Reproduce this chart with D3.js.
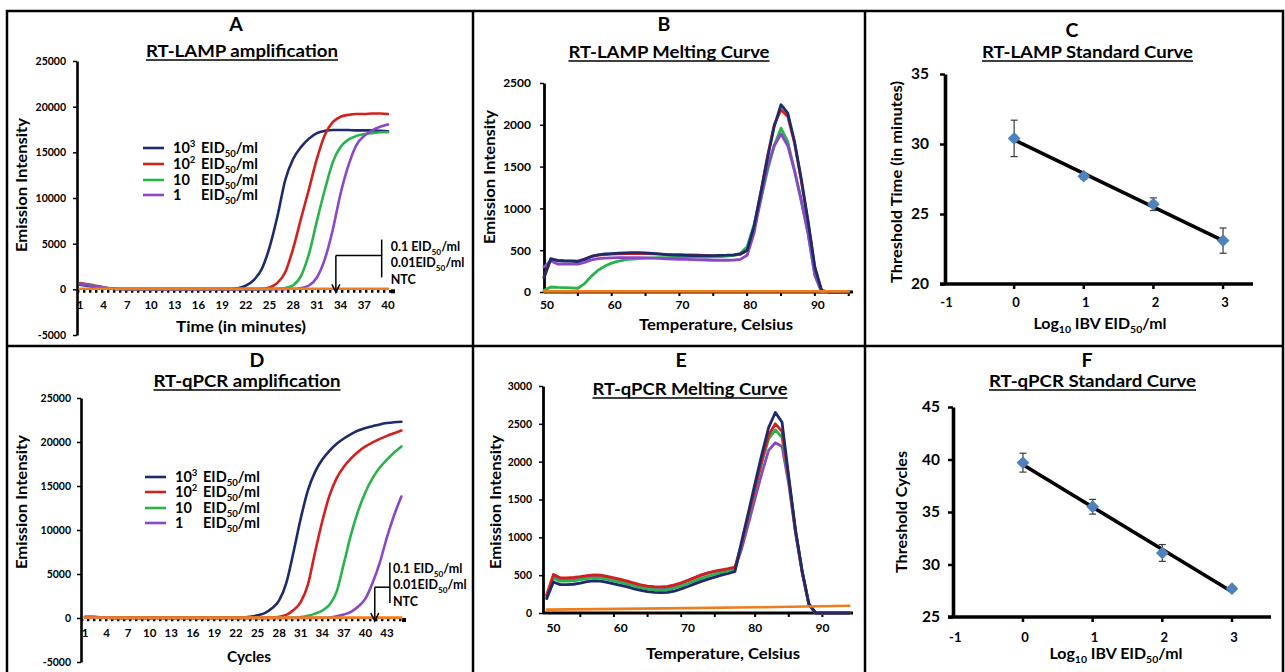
<!DOCTYPE html>
<html><head><meta charset="utf-8">
<script src="https://cdn.jsdelivr.net/npm/d3@7"></script>
<style>
body{margin:0;background:#fff}
svg{display:block}
text{font-family:Lato,"Open Sans","DejaVu Sans",sans-serif;font-weight:bold;fill:#000}
</style>
</head><body>
<svg id="c" width="1285" height="672"></svg>
<script>
// ================= DATA =================
// Panel A: RT-LAMP amplification (minutes)
const minutesA=[1,2,3,4,5,6,7,8,9,10,11,12,13,14,15,16,17,18,19,20,21,22,23,24,25,26,27,28,29,30,31,32,33,34,35,36,37,38,39,40];
const lampAmp1000=[500,380,250,140,70,30,20,20,20,20,20,20,20,20,20,20,20,20,20,30,120,400,1000,2200,4600,8000,12000,14300,15600,16500,17100,17350,17450,17450,17450,17400,17400,17400,17350,17300];
const lampAmp100=[700,560,380,220,100,40,20,20,20,20,20,20,20,20,20,20,20,20,20,20,20,20,20,60,200,700,1900,4500,7800,11000,14300,16900,18300,18900,19100,19200,19200,19250,19250,19200];
const lampAmp10=[600,470,320,180,80,30,20,20,20,20,20,20,20,20,20,20,20,20,20,20,20,20,20,20,20,60,150,450,1500,3900,7500,10900,13900,15600,16400,16800,17000,17100,17200,17200];
const lampAmp1=[600,450,300,170,70,30,20,20,20,20,20,20,20,20,20,20,20,20,20,20,20,20,20,20,20,20,20,60,150,420,1300,3300,6500,10500,13600,15800,16800,17400,17800,18050];
const ntcMinutesA=[1,40];
const lampAmpNTC=[60,60];

// Panel D: RT-qPCR amplification (cycles)
const cyclesD=[1,2,3,4,5,6,7,8,9,10,11,12,13,14,15,16,17,18,19,20,21,22,23,24,25,26,27,28,29,30,31,32,33,34,35,36,37,38,39,40,41,42,43,44,45];
const qpcrAmp1000=[100,100,80,40,10,10,10,10,10,10,10,10,10,10,10,10,10,10,10,10,10,10,40,150,300,550,1100,2000,4000,7500,11300,14500,16600,18000,19000,19800,20400,20900,21300,21600,21800,22000,22150,22250,22300];
const qpcrAmp100=[100,100,80,40,10,10,10,10,10,10,10,10,10,10,10,10,10,10,10,10,10,10,10,10,10,10,50,150,350,900,1800,3800,7500,11000,13900,15900,17200,18150,18900,19500,19950,20350,20700,21000,21300];
const qpcrAmp10=[100,100,80,40,10,10,10,10,10,10,10,10,10,10,10,10,10,10,10,10,10,10,10,10,10,10,10,10,10,10,100,250,500,850,1500,3000,6200,9500,12200,14300,15900,17100,18000,18800,19500];
const qpcrAmp1=[100,100,80,40,10,10,10,10,10,10,10,10,10,10,10,10,10,10,10,10,10,10,10,10,10,10,10,10,10,10,10,10,10,10,50,200,400,700,1300,2200,4000,6300,9200,11700,13800];
const ntcCyclesD=[1,45];
const qpcrAmpNTC=[40,40];

// Panel B: RT-LAMP melting curve
const tempB=[50,51,52,53,54,55,56,57,58,59,60,61,62,63,64,65,66,67,68,69,70,71,72,73,74,75,76,77,78,79,80,81,82,83,84,85,86,87,88,89,90,91,92,93,94,95];
const lampMelt1000=[170,400,375,370,370,365,390,425,445,455,460,465,468,470,470,468,462,455,448,443,440,438,436,435,435,436,438,440,445,455,500,780,1180,1600,1980,2240,2140,1800,1350,850,300,20,0,0,0,0];
const lampMelt100=[180,390,380,375,372,370,395,425,440,448,452,455,458,460,460,458,455,452,450,448,446,445,443,440,436,432,432,435,440,450,500,780,1180,1620,2000,2180,2100,1780,1330,830,280,10,0,0,0,0];
const lampMelt10=[20,60,55,52,50,45,100,190,260,310,345,370,385,395,400,405,408,410,412,413,414,415,416,417,418,420,422,428,438,460,540,800,1100,1450,1750,1960,1800,1450,1080,700,200,0,0,0,0,0];
const lampMelt1=[300,370,335,333,333,333,355,385,400,405,408,410,410,410,410,408,405,402,398,395,392,390,388,385,383,380,380,380,382,390,440,700,1100,1500,1750,1890,1750,1450,1100,700,200,0,0,0,0,0];
const ntcTempB=[50,95];
const lampMeltNTC=[8,8];

// Panel E: RT-qPCR melting curve
const tempE=[49,50,51,52,53,54,55,56,57,58,59,60,61,62,63,64,65,66,67,68,69,70,71,72,73,74,75,76,77,78,79,80,81,82,83,84,85,86,87,88,89,90,91,92,93,94];
const qpcrMelt1000=[190,410,375,375,380,395,415,425,420,405,385,365,345,320,300,282,272,268,272,290,318,350,385,418,448,475,500,522,550,950,1330,1720,2100,2450,2650,2520,1800,1100,550,120,0,0,0,0,0,0];
const qpcrMelt100=[240,510,465,465,470,480,495,505,500,485,465,445,420,395,372,355,348,345,352,372,400,432,465,500,530,552,570,585,605,920,1290,1660,2020,2350,2500,2400,1760,1080,540,110,0,0,0,0,0,0];
const qpcrMelt10=[215,460,420,420,425,440,455,465,460,445,425,405,382,358,336,318,308,305,310,330,358,390,425,458,488,512,535,555,578,910,1270,1640,1990,2300,2420,2320,1740,1080,540,110,0,0,0,0,0,0];
const qpcrMelt1=[230,480,440,440,445,460,475,485,480,465,445,425,400,375,352,335,325,322,330,355,390,430,470,505,530,548,562,575,590,850,1180,1520,1850,2150,2250,2200,1700,1060,530,110,0,0,0,0,0,0];
const ntcTempE=[49,60,70,80,94];
const qpcrMeltNTC=[45,55,65,75,95];

// Panels C & F: standard curves
const log10Dose=[0,1,2,3];
const lampThreshold=[30.4,27.7,25.7,23.1];
const lampThresholdSd=[1.3,0.2,0.45,0.9];
const lampFitDose=[0,3];
const lampFit=[30.3,23.1];
const qpcrThreshold=[39.7,35.5,31.1,27.7];
const qpcrThresholdSd=[0.9,0.7,0.8,0.2];
const qpcrFitDose=[0,3];
const qpcrFit=[39.5,27.4];

// Tick labels
const ampTicks=[-5000,0,5000,10000,15000,20000,25000];
const minuteLabels=[1,4,7,10,13,16,19,22,25,28,31,34,37,40];
const cycleLabels=[1,4,7,10,13,16,19,22,25,28,31,34,37,40,43];
const meltTicksB=[0,500,1000,1500,2000,2500];
const meltTicksE=[0,500,1000,1500,2000,2500,3000];
const tempLabels=[50,60,70,80,90];
const tempTicksB=[55,60,65,70,75,80,85,90,95];
const tempTicksE=[54,59,64,69,74,80,85,90];
const logLabels=[-1,0,1,2,3];
const lampTimeTicks=[20,25,30,35];
const qpcrCycleTicks=[25,30,35,40,45];
const seriesNames=[["10","^3"],["10","^2"],["10"],["1"]];
const ntcLabels=[["0.1 EID","_50","/ml"],["0.01EID","_50","/ml"],["NTC"]];

// ================= DRAWING =================
const COL={blue:"#1d2b6c",red:"#d2201f",green:"#28b34b",purple:"#8b47c8",orange:"#f07d1c",diamond:"#4f81bd"};
const seriesColors=[COL.blue,COL.red,COL.green,COL.purple];
const svg=d3.select("#c");

function rich(sel,parts,size){
  let shift=0;
  parts.forEach(p=>{
    const kind=p[0]==="_"?"sub":(p[0]==="^"?"sup":"");
    const s=kind?p.slice(1):p;
    const target=kind==="sub"?size*0.28:(kind==="sup"?-size*0.42:0);
    const t=sel.append("tspan").text(s);
    if(target-shift!==0) t.attr("dy",target-shift);
    if(kind) t.attr("font-size",size*0.66);
    shift=target;
  });
}
function txt(g,x,y,size,parts,o={}){
  const t=g.append("text").attr("x",x).attr("y",y).attr("font-size",size)
    .attr("text-anchor",o.anchor||"middle");
  if(o.rotate) t.attr("transform",`rotate(-90,${x},${y})`);
  if(o.len) t.attr("textLength",o.len).attr("lengthAdjust","spacingAndGlyphs");
  if(o.weight) t.attr("font-weight",o.weight);
  rich(t,Array.isArray(parts)?parts:[parts],size);
  return t;
}
function title(g,cx,base,str,len){
  txt(g,cx,base,17,str,{len:len});
  g.append("line").attr("x1",cx-len/2).attr("x2",cx+len/2).attr("y1",base+3).attr("y2",base+3)
    .attr("stroke","#000").attr("stroke-width",1.4);
}
function yAxis(g,scale,ticks,x0,o){
  const a=g.append("g").attr("transform",`translate(${x0},0)`)
    .call(d3.axisLeft(scale).tickValues(ticks).tickSize(o.tick).tickSizeOuter(0).tickPadding(o.pad).tickFormat(d=>String(d)));
  a.select(".domain").attr("stroke","#000").attr("stroke-width",o.sw);
  a.selectAll(".tick line").attr("stroke","#000").attr("stroke-width",o.tw||1.5);
  a.selectAll(".tick text").attr("font-size",o.fs).attr("font-weight",o.fw||"bold").attr("fill","#000");
  return a;
}
function series(g,xs,ys,x,y,color,w,curve){
  const line=d3.line().x(d=>x(d[0])).y(d=>y(d[1])).curve(curve||d3.curveLinear);
  g.append("path").datum(d3.zip(xs,ys)).attr("d",line).attr("fill","none")
    .attr("stroke",color).attr("stroke-width",w).attr("stroke-linejoin","round").attr("stroke-linecap","round");
}

// ---- frame ----
const fr=svg.append("g").attr("stroke","#000").attr("stroke-width",2.5).attr("fill","none");
fr.append("rect").attr("x",7).attr("y",11).attr("width",1276).attr("height",672);
fr.append("line").attr("x1",473).attr("x2",473).attr("y1",11).attr("y2",672);
fr.append("line").attr("x1",865).attr("x2",865).attr("y1",11).attr("y2",672);
fr.append("line").attr("x1",7).attr("x2",1283).attr("y1",346).attr("y2",346);

// ---- amplification panels (A, D) ----
function ampPanel(c){
  const g=svg.append("g");
  const x=d3.scaleLinear().domain(c.xDom).range(c.xRng);
  const y=d3.scaleLinear().domain([-5000,25000]).range(c.yRng);
  txt(g,c.letterX,c.letterY,19.5,c.letter);
  title(g,c.titleX,c.titleY,c.title,c.titleLen);
  yAxis(g,y,ampTicks,c.axisX,{tick:4,pad:c.pad,sw:2.6,fs:10.5});
  // dotted baseline axis
  g.append("line").attr("x1",c.axisX).attr("x2",c.xEnd).attr("y1",y(0)+2).attr("y2",y(0)+2)
    .attr("stroke","#000").attr("stroke-width",2.6).attr("stroke-dasharray","2.4,3.6");
  g.append("rect").attr("x",c.xEnd-2).attr("y",y(0)).attr("width",4).attr("height",4).attr("fill","#000");
  g.selectAll(null).data(c.labels).join("text").attr("x",d=>x(d)).attr("y",c.labY)
    .attr("font-size",11.5).attr("text-anchor","middle").text(d=>d);
  txt(g,c.xTitleX,c.xTitleY,15,c.xTitle,{len:c.xTitleLen});
  txt(g,c.yTitleX,c.yTitleY,15,"Emission Intensity",{rotate:true,len:134});
  // curves
  c.ys.forEach((ys,i)=>series(g,c.xs,ys,x,y,seriesColors[i],2.6,d3.curveMonotoneX));
  series(g,c.ntcX,c.ntcY,x,y,COL.orange,2.6);
  // legend
  c.ys.forEach((ys,i)=>{
    const yy=c.legY[i];
    g.append("line").attr("x1",c.legX).attr("x2",c.legX+21).attr("y1",yy).attr("y2",yy)
      .attr("stroke",seriesColors[i]).attr("stroke-width",2.6);
    txt(g,c.legX+30,yy+5,14.5,seriesNames[i],{anchor:"start"});
    txt(g,c.legX+58,yy+5,14.5,["EID","_50","/ml"],{anchor:"start"});
  });
  // NTC annotation
  const ax=x(c.arrowAt), bx=x(c.bracketAt);
  const an=g.append("g").attr("stroke","#000").attr("stroke-width",1.5).attr("fill","none");
  an.append("line").attr("x1",bx).attr("x2",bx).attr("y1",y(c.bracketTop)).attr("y2",y(c.bracketBot));
  an.append("line").attr("x1",ax).attr("x2",bx).attr("y1",y(c.bracketMid)).attr("y2",y(c.bracketMid));
  an.append("line").attr("x1",ax).attr("x2",ax).attr("y1",y(c.bracketMid)).attr("y2",y(0)+3);
  an.append("path").attr("d",`M${ax-4},${y(0)-5}L${ax},${y(0)+3}L${ax+4},${y(0)-5}`);
  ntcLabels.forEach((p,i)=>txt(g,bx+c.ntcDx,c.ntcY0+16.3*i,12.5,p,{anchor:"start"}));
}
ampPanel({letter:"A",letterX:236,letterY:31,title:"RT-LAMP amplification",titleX:242,titleY:57,titleLen:192,
  xDom:[1,40],xRng:[80,388],yRng:[335,61],axisX:77,pad:7,xEnd:393,labels:minuteLabels,labY:309,
  xTitle:"Time (in minutes)",xTitleX:241,xTitleY:332,xTitleLen:130,yTitleX:27,yTitleY:185,
  xs:minutesA,ys:[lampAmp1000,lampAmp100,lampAmp10,lampAmp1],ntcX:ntcMinutesA,ntcY:lampAmpNTC,
  legX:143,legY:[148,164,180,195],arrowAt:33.4,bracketAt:39.2,bracketTop:5450,bracketBot:1300,bracketMid:3700,
  ntcDx:9,ntcY0:251});
ampPanel({letter:"D",letterX:257,letterY:367,title:"RT-qPCR amplification",titleX:247,titleY:387,titleLen:187,
  xDom:[1,43],xRng:[85,387],yRng:[662,398],axisX:81,pad:6,xEnd:404,labels:cycleLabels,labY:637,
  xTitle:"Cycles",xTitleX:249,xTitleY:662,xTitleLen:44,yTitleX:27,yTitleY:502,
  xs:cyclesD,ys:[qpcrAmp1000,qpcrAmp100,qpcrAmp10,qpcrAmp1],ntcX:ntcCyclesD,ntcY:qpcrAmpNTC,
  legX:145,legY:[477,492,508,523],arrowAt:41.3,bracketAt:43.4,bracketTop:6300,bracketBot:1700,bracketMid:3500,
  ntcDx:3,ntcY0:573});

// ---- melting panels (B, E) ----
function meltPanel(c){
  const g=svg.append("g");
  const x=d3.scaleLinear().domain(c.xDom).range(c.xRng);
  const y=d3.scaleLinear().domain(c.yDom).range(c.yRng);
  txt(g,c.letterX,c.letterY,19.5,c.letter);
  title(g,c.titleX,c.titleY,c.title,c.titleLen);
  yAxis(g,y,c.yTicks,c.axisX,{tick:4,pad:c.pad,sw:2.8,fs:c.fs});
  const base=y(0);
  g.append("line").attr("x1",c.axisX).attr("x2",853).attr("y1",base).attr("y2",base)
    .attr("stroke","#000").attr("stroke-width",2.8);
  g.selectAll(null).data(c.ticks).join("line").attr("x1",d=>x(d)).attr("x2",d=>x(d))
    .attr("y1",base).attr("y2",base+4).attr("stroke","#000").attr("stroke-width",2);
  g.selectAll(null).data(tempLabels).join("text").attr("x",d=>x(d)+c.labDx).attr("y",c.labY)
    .attr("font-size",12).attr("text-anchor","middle").text(d=>d);
  txt(g,c.xTitleX,c.xTitleY,15.5,"Temperature, Celsius",{len:154});
  txt(g,c.yTitleX,c.yTitleY,15,"Emission Intensity",{rotate:true,len:134});
  c.order.forEach(i=>series(g,c.xs,c.ys[i],x,y,seriesColors[i],2.8));
  series(g,c.ntcX,c.ntcY,x,y,COL.orange,2.6);
}
meltPanel({letter:"B",letterX:664,letterY:31,title:"RT-LAMP Melting Curve",titleX:669,titleY:58,titleLen:201,
  xDom:[50,95],xRng:[544,848.7],yDom:[0,2500],yRng:[292,83],yTicks:meltTicksB,axisX:544,pad:9,fs:12,
  ticks:tempTicksB,labDx:3,labY:309,xTitleX:716,xTitleY:330,yTitleX:495,yTitleY:177,
  xs:tempB,ys:[lampMelt1000,lampMelt100,lampMelt10,lampMelt1],order:[1,2,3,0],ntcX:ntcTempB,ntcY:lampMeltNTC});
meltPanel({letter:"E",letterX:681,letterY:367,title:"RT-qPCR Melting Curve",titleX:690,titleY:395,titleLen:195,
  xDom:[49,94],xRng:[546.7,849.3],yDom:[0,3000],yRng:[613,386],yTicks:meltTicksE,axisX:543,pad:7,fs:10.5,
  ticks:tempTicksE,labDx:0,labY:632,xTitleX:723,xTitleY:659,yTitleX:501,yTitleY:502,
  xs:tempE,ys:[qpcrMelt1000,qpcrMelt100,qpcrMelt10,qpcrMelt1],order:[3,2,1,0],ntcX:ntcTempE,ntcY:qpcrMeltNTC});

// ---- standard curve panels (C, F) ----
function stdPanel(c){
  const g=svg.append("g");
  const x=d3.scaleLinear().domain(c.xDom).range(c.xRng);
  const y=d3.scaleLinear().domain(c.yDom).range(c.yRng);
  txt(g,c.letterX,c.letterY,19.5,c.letter);
  title(g,c.titleX,c.titleY,c.title,c.titleLen);
  yAxis(g,y,c.yTicks,c.axisX,{tick:5,pad:c.pad,sw:3.6,fs:15.5,fw:"normal",tw:2.5});
  const base=y(c.yDom[0]);
  g.append("line").attr("x1",c.axisX-5).attr("x2",c.xEnd).attr("y1",base).attr("y2",base)
    .attr("stroke","#000").attr("stroke-width",3.6);
  g.selectAll(null).data(log10Dose).join("line").attr("x1",d=>x(d)).attr("x2",d=>x(d))
    .attr("y1",base).attr("y2",base+5).attr("stroke","#000").attr("stroke-width",2.5);
  g.selectAll(null).data(logLabels).join("text").attr("x",d=>x(d)+c.labDx).attr("y",c.labY)
    .attr("font-size",13).attr("text-anchor","middle").text(d=>d);
  txt(g,c.xTitleX,c.xTitleY,15,["Log","_10"," IBV EID","_50","/ml"],{len:133});
  txt(g,c.yTitleX,c.yTitleY,15,c.yTitle,{rotate:true,len:c.yTitleLen});
  // fit line
  series(g,c.fitX,c.fitY,x,y,"#000",3.6);
  // error bars
  const eb=g.append("g").attr("stroke","#3a3a3a").attr("stroke-width",1.2);
  log10Dose.forEach((d,i)=>{
    const cx=x(d), t=y(c.vals[i]+c.sd[i]), b=y(c.vals[i]-c.sd[i]);
    eb.append("line").attr("x1",cx).attr("x2",cx).attr("y1",t).attr("y2",b);
    eb.append("line").attr("x1",cx-3.5).attr("x2",cx+3.5).attr("y1",t).attr("y2",t);
    eb.append("line").attr("x1",cx-3.5).attr("x2",cx+3.5).attr("y1",b).attr("y2",b);
  });
  g.selectAll(null).data(d3.zip(log10Dose,c.vals)).join("path")
    .attr("d",d3.symbol().type(d3.symbolSquare).size(82))
    .attr("transform",d=>`translate(${x(d[0])},${y(d[1])}) rotate(45)`)
    .attr("fill",COL.diamond);
}
stdPanel({letter:"C",letterX:1072,letterY:37,title:"RT-LAMP Standard Curve",titleX:1087.5,titleY:58,titleLen:211,
  xDom:[-1,3.43],xRng:[944.5,1253],yDom:[20,35],yRng:[284,74],yTicks:lampTimeTicks,axisX:945,pad:11,xEnd:1253,
  labDx:2,labY:307,xTitleX:1100,xTitleY:329,yTitleX:902,yTitleY:182,yTitle:"Threshold Time (in minutes)",yTitleLen:202,
  vals:lampThreshold,sd:lampThresholdSd,fitX:lampFitDose,fitY:lampFit});
stdPanel({letter:"F",letterX:1087,letterY:367,title:"RT-qPCR Standard Curve",titleX:1092.5,titleY:387,titleLen:207,
  xDom:[-1,3.56],xRng:[953.3,1271],yDom:[25,45],yRng:[617,407],yTicks:qpcrCycleTicks,axisX:953,pad:8,xEnd:1271,
  labDx:2,labY:642,xTitleX:1116,xTitleY:659,yTitleX:907,yTitleY:512,yTitle:"Threshold Cycles",yTitleLen:122,
  vals:qpcrThreshold,sd:qpcrThresholdSd,fitX:qpcrFitDose,fitY:qpcrFit});
</script>
</body></html>
